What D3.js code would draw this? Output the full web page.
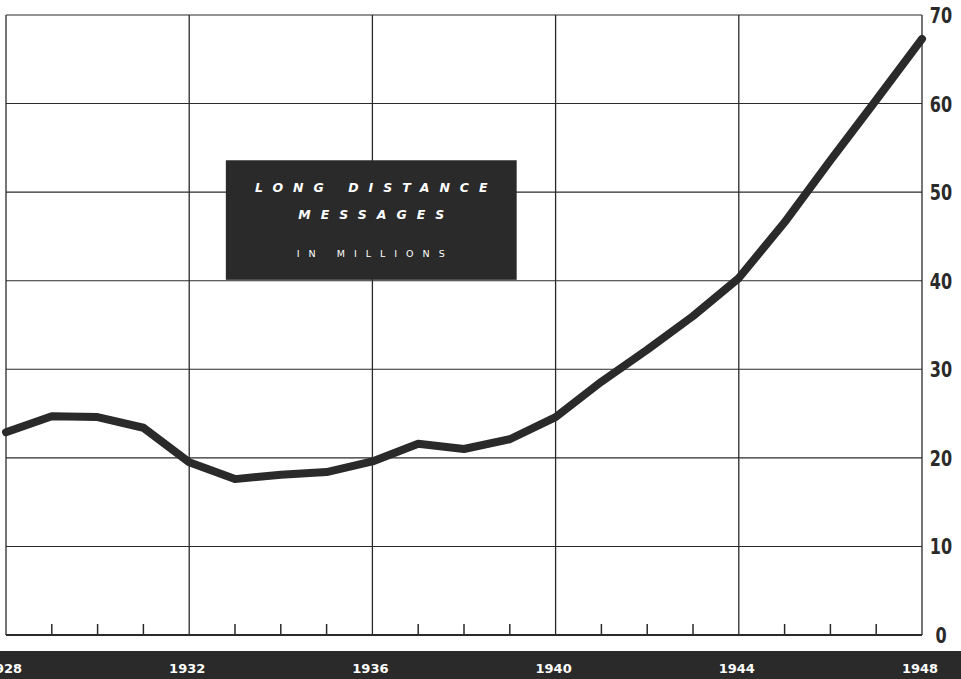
<!DOCTYPE html>
<html>
<head>
<meta charset="utf-8">
<script src="https://cdn.jsdelivr.net/npm/d3@7"></script>
<style>
  html, body { margin: 0; padding: 0; background: #fff; }
  svg { display: block; }
</style>
</head>
<body>
<svg id="chart" width="961" height="679"></svg>
<script>
// Long distance messages, millions per year
const years = [1928, 1929, 1930, 1931, 1932, 1933, 1934, 1935, 1936, 1937, 1938,
               1939, 1940, 1941, 1942, 1943, 1944, 1945, 1946, 1947, 1948];
const messages = [22.9, 24.7, 24.6, 23.4, 19.5, 17.6, 18.1, 18.4, 19.6, 21.6, 21.0,
                  22.1, 24.6, 28.6, 32.2, 36.0, 40.3, 46.6, 53.6, 60.4, 67.3];
const yearLabels = [1928, 1932, 1936, 1940, 1944, 1948];
const valueTicks = [0, 10, 20, 30, 40, 50, 60, 70];
const titleLines = ["LONG DISTANCE", "MESSAGES"];
const subtitle = "IN MILLIONS";

const ink = "#2a2a2a";
const svg = d3.select("#chart");

const x = d3.scaleLinear().domain([1928, 1948]).range([6, 922]);
const y = d3.scaleLinear().domain([0, 70]).range([635, 15]);

// vertical grid every four years
svg.append("g").selectAll("line").data(yearLabels).join("line")
  .attr("x1", d => x(d)).attr("x2", d => x(d))
  .attr("y1", y(70)).attr("y2", y(0))
  .attr("stroke", ink).attr("stroke-width", 1.3);

// horizontal grid
svg.append("g").selectAll("line").data(valueTicks).join("line")
  .attr("x1", x(1928)).attr("x2", x(1948))
  .attr("y1", d => y(d)).attr("y2", d => y(d))
  .attr("stroke", ink).attr("stroke-width", d => d === 0 ? 2 : 1.1);

// minor year ticks on the baseline
const minorYears = years.filter(v => !yearLabels.includes(v));
svg.append("g").selectAll("line").data(minorYears).join("line")
  .attr("x1", d => x(d)).attr("x2", d => x(d))
  .attr("y1", y(0) - 11).attr("y2", y(0))
  .attr("stroke", ink).attr("stroke-width", 1.5);

// right-hand value axis labels (condensed)
svg.append("g").selectAll("text").data(valueTicks).join("text")
  .attr("x", 0).attr("y", 0)
  .attr("text-anchor", "middle")
  .attr("font-family", "'Liberation Sans Narrow', 'DejaVu Sans Condensed', sans-serif")
  .attr("font-weight", "bold")
  .attr("font-size", 21)
  .attr("transform", d => `translate(941,${y(d) + 8}) scale(0.85,1)`)
  .attr("fill", ink)
  .text(d => d);

// the data line
const line = d3.line().x((d, i) => x(years[i])).y(d => y(d));
svg.append("path").datum(messages)
  .attr("d", line)
  .attr("fill", "none")
  .attr("stroke", ink)
  .attr("stroke-width", 8)
  .attr("stroke-linejoin", "round")
  .attr("stroke-linecap", "round");

// title panel
const box = svg.append("g");
box.append("rect")
  .attr("x", x(1932.8)).attr("y", y(53.6))
  .attr("width", x(1939.15) - x(1932.8)).attr("height", y(40.1) - y(53.6))
  .attr("fill", ink);
const cx = (x(1932.8) + x(1939.15)) / 2;
box.selectAll("text.t").data(titleLines).join("text")
  .attr("class", "t")
  .attr("x", cx + 5).attr("y", (d, i) => 192 + i * 27)
  .attr("text-anchor", "middle")
  .attr("font-family", "'DejaVu Sans', sans-serif")
  .attr("font-style", "italic")
  .attr("font-weight", 600)
  .attr("font-size", 12.5)
  .attr("letter-spacing", 10)
  .attr("fill", "#fff")
  .text(d => d);
box.append("text")
  .attr("x", cx + 4).attr("y", 257)
  .attr("text-anchor", "middle")
  .attr("font-family", "'DejaVu Sans', sans-serif")
  .attr("font-size", 9.5)
  .attr("letter-spacing", 9)
  .attr("fill", "#fff")
  .text(subtitle);

// bottom year band
svg.append("rect")
  .attr("x", 0).attr("y", 651).attr("width", 961).attr("height", 28)
  .attr("fill", ink);
svg.append("g").selectAll("text").data(yearLabels).join("text")
  .attr("x", d => x(d) - 2).attr("y", 673)
  .attr("text-anchor", "middle")
  .attr("font-family", "'DejaVu Sans', sans-serif")
  .attr("font-weight", "bold")
  .attr("font-size", 13)
  .attr("fill", "#fff")
  .text(d => d);
</script>
</body>
</html>
